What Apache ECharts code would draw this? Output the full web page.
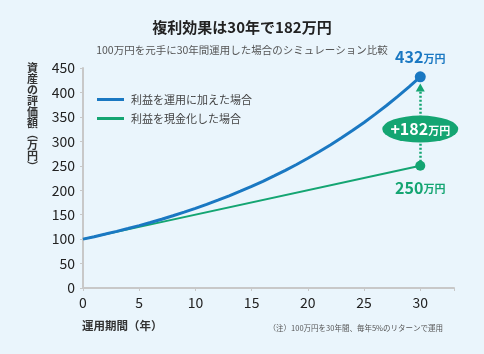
<!DOCTYPE html>
<html><head><meta charset="utf-8">
<script src="https://cdn.jsdelivr.net/npm/echarts@6/dist/echarts.min.js"></script>
<style>html,body{margin:0;padding:0;background:#eaf5fc;}#c{width:484px;height:354px;}</style>
</head><body><div id="c"></div>
<script>
const years = [0,1,2,3,4,5,6,7,8,9,10,11,12,13,14,15,16,17,18,19,20,21,22,23,24,25,26,27,28,29,30];
const reinvestValues = [100,105,110.3,115.8,121.6,127.6,134,140.7,147.7,155.1,162.9,171,179.6,188.6,198,207.9,218.3,229.2,240.7,252.7,265.3,278.6,292.5,307.2,322.5,338.6,355.6,373.3,392,411.6,432];
const cashYears = [0,30];
const cashValues = [100,250];
const seriesNames = ['利益を運用に加えた場合','利益を現金化した場合'];
const xTicks = [0,5,10,15,20,25,30];
const yTicks = [0,50,100,150,200,250,300,350,400,450];
const diffLabel = '+182';

const FONT = '"Noto Sans CJK JP","Noto Sans",sans-serif';
const BLUE = '#1a78c2', GREEN = '#14a572';
const chart = echarts.init(document.getElementById('c'));
const lastIdx = years.length - 1;
const blueData = years.map((x,i)=> i===lastIdx ? {value:[x,reinvestValues[i]], symbol:'circle', symbolSize:11,
  label:{show:true, position:'top', distance:6, formatter:'{a|'+reinvestValues[i]+'}{b|万円}', rich:{a:{fontSize:16,fontWeight:'bold',color:BLUE,fontFamily:FONT},b:{fontSize:11,fontWeight:'bold',color:BLUE,fontFamily:FONT,padding:[3,0,0,0]}}}} : [x,reinvestValues[i]]);
const greenData = cashYears.map((x,i)=> i===cashYears.length-1 ? {value:[x,cashValues[i]], symbol:'circle', symbolSize:10,
  label:{show:true, position:'bottom', distance:9, formatter:'{a|'+cashValues[i]+'}{b|万円}', rich:{a:{fontSize:16,fontWeight:'bold',color:GREEN,fontFamily:FONT},b:{fontSize:11,fontWeight:'bold',color:GREEN,fontFamily:FONT,padding:[3,0,0,0]}}}} : [x,cashValues[i]]);

chart.setOption({
  backgroundColor:'#eaf5fc',
  animation:false,
  textStyle:{fontFamily:FONT},
  title:[
    {text:'複利効果は30年で182万円', left:'center', top:15, textStyle:{fontSize:15,fontWeight:'bold',color:'#222',fontFamily:FONT}},
    {text:'100万円を元手に30年間運用した場合のシミュレーション比較', left:'center', top:40, textStyle:{fontSize:10.5,fontWeight:'normal',color:'#555',fontFamily:FONT}}
  ],
  legend:{left:92, top:89, orient:'vertical', itemGap:8, itemWidth:27, itemHeight:3, icon:'rect',
    textStyle:{fontSize:11,color:'#444',fontFamily:FONT, padding:[0,0,0,2]}, data:seriesNames},
  grid:{left:83, right:30, top:68, bottom:66},
  xAxis:{type:'value', min:0, max:33, interval:5,
    axisLine:{lineStyle:{color:'#c8c8c8',width:2}},
    axisTick:{show:true, length:3, lineStyle:{color:'#c8c8c8'}},
    splitLine:{show:false},
    axisLabel:{fontSize:14,color:'#222',margin:8,fontFamily:FONT, formatter:v=> xTicks.includes(v)? String(v):''}},
  yAxis:{type:'value', min:0, max:450, interval:50,
    axisLine:{show:true,lineStyle:{color:'#c8c8c8',width:2}},
    axisTick:{show:true, length:3, lineStyle:{color:'#c8c8c8'}},
    splitLine:{show:false},
    axisLabel:{fontSize:14,color:'#222',margin:8,fontFamily:FONT, formatter:v=> yTicks.includes(v)? String(v):''}},
  graphic:[
    {type:'text', left:27, top:62, style:{text:'資\n産\nの\n評\n価\n額\n︵\n万\n円\n︶', font:'bold 11px '+FONT, fill:'#333', lineHeight:11}},
    {type:'text', left:82, top:320, style:{text:'運用期間（年）', font:'bold 11.5px '+FONT, fill:'#333'}},
    {type:'text', right:41, top:324, style:{text:'（注）100万円を30年間、毎年5%のリターンで運用', font:'7.5px '+FONT, fill:'#555'}}
  ],
  series:[
    {name:seriesNames[0], type:'line', data:blueData, symbol:'none', showSymbol:true, smooth:false,
      lineStyle:{color:BLUE,width:3}, itemStyle:{color:BLUE}, z:3,
      markLine:{silent:true, symbol:['none','triangle'], symbolSize:[9,8],
        lineStyle:{color:GREEN,type:[2,2],width:2.5}, label:{show:false},
        data:[[{coord:[30,258]},{coord:[30,410]}]]},
      markPoint:{silent:true, symbol:'circle', symbolSize:[76,27], itemStyle:{color:GREEN},
        data:[{coord:[30,325], label:{show:true, position:'inside', formatter:'{a|'+diffLabel+'}{b|万円}',
          rich:{a:{fontSize:16,fontWeight:'bold',color:'#fff',fontFamily:FONT},b:{fontSize:11,fontWeight:'bold',color:'#fff',fontFamily:FONT,padding:[3,0,0,0]}}}}]}},
    {name:seriesNames[1], type:'line', data:greenData, symbol:'none', showSymbol:true,
      lineStyle:{color:GREEN,width:2}, itemStyle:{color:GREEN}, z:2}
  ]
});
</script></body></html>
